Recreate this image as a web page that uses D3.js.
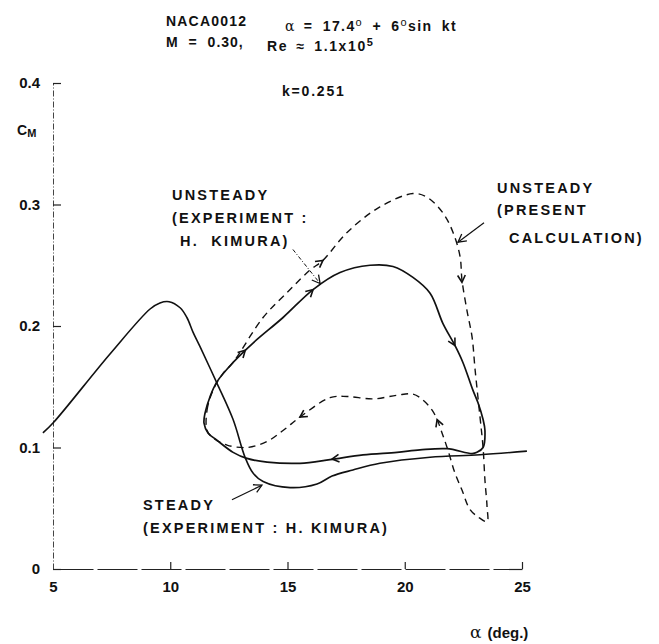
<!DOCTYPE html>
<html>
<head>
<meta charset="utf-8">
<script src="https://cdn.jsdelivr.net/npm/d3@7"></script>
<style>
body { margin:0; background:#fff; }
svg { display:block; font-family:"Liberation Sans", Arial, sans-serif; font-weight:bold; }
text { fill:#111; }
.lbl { font-size:14.5px; letter-spacing:2.2px; }
.ttl { font-size:14px; }
.tick text { font-size:15px; font-weight:bold; font-family:"Liberation Sans", Arial, sans-serif; }
</style>
</head>
<body>
<svg id="chart"></svg>
<script>
// steady curve (experiment, H. Kimura)
var steadyAlpha = [4.57, 5.04, 7.43, 9.14, 9.56, 9.95, 10.42, 10.71, 10.97, 11.27, 11.99, 12.68, 13.19, 13.53, 13.96, 15.11, 16.26, 16.90, 17.79, 18.94, 21.08, 23.21, 25.21];
var steadyCm    = [0.112, 0.121, 0.177, 0.214, 0.219, 0.220, 0.215, 0.207, 0.195, 0.183, 0.153, 0.123, 0.092, 0.079, 0.072, 0.067, 0.070, 0.0765, 0.0815, 0.087, 0.092, 0.094, 0.097];

// unsteady experiment loop (solid, clockwise)
var expAlpha = [11.44, 11.48, 11.70, 11.99, 12.68, 13.53, 14.81, 16.09, 17.24, 18.52, 19.50, 20.35, 21.08, 21.63, 22.14, 22.48, 22.91, 23.12, 23.34, 23.42, 23.34, 23.08, 22.87, 21.80, 20.65, 19.67, 18.22, 16.81, 15.53, 14.13, 13.27, 12.68, 11.99, 11.61];
var expCm    = [0.120, 0.128, 0.142, 0.154, 0.170, 0.186, 0.207, 0.230, 0.244, 0.250, 0.249, 0.240, 0.227, 0.202, 0.184, 0.170, 0.147, 0.137, 0.123, 0.114, 0.100, 0.096, 0.095, 0.099, 0.098, 0.096, 0.094, 0.090, 0.087, 0.088, 0.091, 0.096, 0.106, 0.112];

// unsteady present calculation loop (dashed)
var calcAlpha = [11.57, 11.57, 11.82, 12.25, 12.68, 13.96, 15.11, 15.96, 16.51, 17.54, 18.94, 20.35, 20.95, 21.63, 22.06, 22.36, 22.44, 22.65, 22.87, 23.00, 23.21, 23.34, 23.42, 23.51, 23.51, 23.12, 22.78, 22.44, 22.14, 21.84, 21.59, 21.38, 21.16, 20.78, 20.35, 19.67, 18.65, 17.54, 16.81, 15.53, 14.81, 14.13, 13.27, 12.42, 11.82];
var calcCm    = [0.114, 0.131, 0.147, 0.161, 0.170, 0.207, 0.230, 0.246, 0.254, 0.277, 0.298, 0.309, 0.306, 0.293, 0.277, 0.257, 0.238, 0.213, 0.191, 0.164, 0.125, 0.100, 0.073, 0.051, 0.039, 0.043, 0.049, 0.065, 0.079, 0.098, 0.112, 0.123, 0.131, 0.139, 0.144, 0.143, 0.140, 0.142, 0.141, 0.125, 0.114, 0.105, 0.100, 0.102, 0.108];

// direction arrows on the loops: tip and the point it comes from
var arrowTip  = [[16.09, 0.230], [13.20, 0.180], [22.14, 0.184], [16.90, 0.0905], [16.51, 0.254], [22.44, 0.236], [15.53, 0.125], [21.38, 0.123]];
var arrowFrom = [[14.81, 0.207], [12.68, 0.170], [21.63, 0.202], [18.22, 0.094],  [15.96, 0.246], [22.36, 0.257], [16.81, 0.141], [21.59, 0.112]];

// label pointers
var pointerFrom = [[15.23, 0.263], [23.38, 0.285], [12.63, 0.057]];
var pointerTo   = [[16.39, 0.235], [22.27, 0.269], [13.91, 0.069]];

var xTicks = [5, 10, 15, 20, 25];
var yTicks = [0, 0.1, 0.2, 0.3, 0.4];

var width = 659, height = 644;
var svg = d3.select("#chart").attr("width", width).attr("height", height);

var xScale = d3.scaleLinear().domain([5, 25]).range([53, 522]);
var yScale = d3.scaleLinear().domain([0, 0.4]).range([569, 83]);

// axes
var yAxis = d3.axisLeft(yScale).tickValues(yTicks).tickSize(-8).tickSizeOuter(0).tickPadding(13)
    .tickFormat(function(d) { return d == 0 ? "0" : d3.format(".1f")(d); });
var gy = svg.append("g").attr("transform", "translate(" + xScale(5) + ",0)").call(yAxis);
gy.select(".domain").attr("stroke", "#444").attr("stroke-dasharray", "6,2,1,2");
gy.selectAll(".tick line").attr("stroke", "#222").attr("stroke-width", 1.2);

var xAxis = d3.axisBottom(xScale).tickValues(xTicks).tickSize(-7).tickSizeOuter(0).tickPadding(12);
var gx = svg.append("g").attr("transform", "translate(0," + yScale(0) + ")").call(xAxis);
gx.select(".domain").attr("stroke", "#222").attr("stroke-width", 1.2).attr("stroke-dasharray", "40,4");
gx.selectAll(".tick line").attr("stroke", "#222").attr("stroke-width", 1.2)
    .filter(function(d) { return d == 5; }).remove();

// curves
var line = d3.line()
    .x(function(d) { return xScale(d[0]); })
    .y(function(d) { return yScale(d[1]); });

var steady = d3.zip(steadyAlpha, steadyCm);
var exp = d3.zip(expAlpha, expCm);
var calc = d3.zip(calcAlpha, calcCm);

svg.append("path").datum(steady)
    .attr("d", line.curve(d3.curveCatmullRom.alpha(0.5)))
    .attr("fill", "none").attr("stroke", "#111").attr("stroke-width", 1.6);

svg.append("path").datum(exp)
    .attr("d", line.curve(d3.curveCatmullRomClosed.alpha(0.5)))
    .attr("fill", "none").attr("stroke", "#111").attr("stroke-width", 1.7);

svg.append("path").datum(calc)
    .attr("d", line.curve(d3.curveCatmullRomClosed.alpha(0.5)))
    .attr("fill", "none").attr("stroke", "#111").attr("stroke-width", 1.4)
    .attr("stroke-dasharray", "7,5");

// arrow heads
var head = function(from, tip, len) {
    var tx = xScale(tip[0]), ty = yScale(tip[1]);
    var fx = xScale(from[0]), fy = yScale(from[1]);
    var a = Math.atan2(ty - fy, tx - fx);
    var s = 0.5;
    return "M" + (tx - len * Math.cos(a - s)) + "," + (ty - len * Math.sin(a - s)) +
        "L" + tx + "," + ty +
        "L" + (tx - len * Math.cos(a + s)) + "," + (ty - len * Math.sin(a + s));
}

svg.append("g").selectAll("path")
    .data(arrowTip)
    .enter()
    .append("path")
    .attr("d", function(tip, i) { return head(arrowFrom[i], tip, 8); })
    .attr("fill", "none").attr("stroke", "#111").attr("stroke-width", 1.6);

// pointers from labels
var pointers = svg.append("g");
pointerTo.forEach(function(to, i) {
    var from = pointerFrom[i];
    pointers.append("line")
        .attr("x1", xScale(from[0])).attr("y1", yScale(from[1]))
        .attr("x2", xScale(to[0])).attr("y2", yScale(to[1]))
        .attr("stroke", "#111").attr("stroke-width", i == 0 ? 1 : 1.2)
        .attr("stroke-dasharray", i == 0 ? "4,2,1,2" : null);
    pointers.append("path")
        .attr("d", head(from, to, 9))
        .attr("fill", "none").attr("stroke", "#111").attr("stroke-width", 1.3);
});

// titles
var t = svg.append("g");
t.append("text").attr("class", "ttl").attr("x", 166).attr("y", 26).attr("letter-spacing", 1.2).text("NACA0012");
t.append("text").attr("class", "ttl").attr("x", 166).attr("y", 47).attr("letter-spacing", 1).attr("word-spacing", 5).text("M = 0.30,");
var re = t.append("text").attr("class", "ttl").attr("x", 267).attr("y", 51).attr("letter-spacing", 1.6).attr("word-spacing", 3);
re.append("tspan").text("Re \u2248 1.1x10");
re.append("tspan").attr("dy", -5).attr("font-size", "11px").text("5");

var al = t.append("text").attr("class", "ttl").attr("x", 285).attr("y", 31).attr("letter-spacing", 1.4).attr("word-spacing", 4);
al.append("tspan").attr("font-family", "DejaVu Serif").attr("font-weight", "normal").attr("font-size", "14px").text("\u03b1");
al.append("tspan").attr("dx", 8).text("= 17.4");
al.append("tspan").attr("dy", -5).attr("font-size", "11px").attr("font-weight", "normal").text("o");
al.append("tspan").attr("dy", 5).text(" + 6");
al.append("tspan").attr("dy", -5).attr("font-size", "11px").attr("font-weight", "normal").text("o");
al.append("tspan").attr("dy", 5).text("sin kt");

t.append("text").attr("class", "ttl").attr("x", 282).attr("y", 96).attr("letter-spacing", 1.8).text("k=0.251");

// axis names
var cm = svg.append("text").attr("x", 17).attr("y", 135);
cm.append("tspan").attr("font-size", "14px").text("C");
cm.append("tspan").attr("dy", 2).attr("font-size", "11px").text("M");

var ax = svg.append("text").attr("x", 470).attr("y", 638);
ax.append("tspan").attr("font-family", "DejaVu Serif").attr("font-weight", "normal").attr("font-size", "17px").text("\u03b1");
ax.append("tspan").attr("dx", 6).attr("font-size", "15px").text("(deg.)");

// curve labels
var labels = svg.append("g").classed("lbl", true);
var addLabel = function(x, y, s) {
    labels.append("text").attr("x", x).attr("y", y).attr("xml:space", "preserve").text(s);
}
addLabel(172, 200, "UNSTEADY");
addLabel(172, 223, "(EXPERIMENT :");
addLabel(180, 246, "H.  KIMURA)");
addLabel(497, 193, "UNSTEADY");
addLabel(497, 215, "(PRESENT");
addLabel(509, 243, "CALCULATION)");
addLabel(143, 510, "STEADY");
addLabel(143, 533, "(EXPERIMENT : H. KIMURA)");
</script>
</body>
</html>
